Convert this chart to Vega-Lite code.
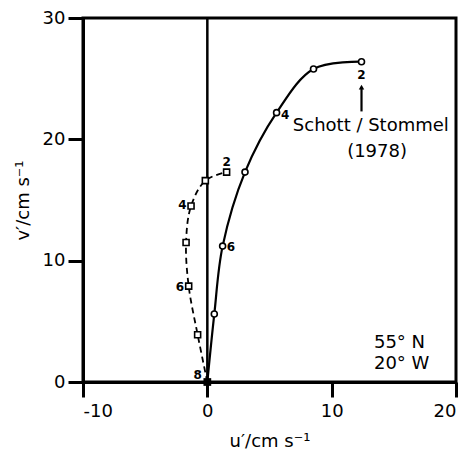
{
  "$schema": "https://vega.github.io/schema/vega-lite/v6.json",
  "width": 373,
  "height": 364,
  "autosize": {"type": "none"},
  "padding": {"left": 83, "top": 18, "right": 14, "bottom": 70},
  "background": "white",
  "config": {
    "font": "DejaVu Sans",
    "view": {"stroke": "black", "strokeWidth": 3},
    "axis": {
      "domainColor": "black", "domainWidth": 3,
      "tickColor": "black", "tickWidth": 3, "tickSize": 15,
      "labelFont": "DejaVu Sans", "labelFontSize": 18, "labelColor": "black",
      "titleFont": "DejaVu Sans", "titleFontSize": 18, "titleFontWeight": "normal", "titleColor": "black",
      "grid": false
    }
  },
  "datasets": {
    "hodo": [
      {"series": "Schott/Stommel", "i": 8, "u": 0.0, "v": 0.0},
      {"series": "Schott/Stommel", "i": 7, "u": 0.56, "v": 5.6},
      {"series": "Schott/Stommel", "i": 6, "u": 1.23, "v": 11.2},
      {"series": "Schott/Stommel", "i": 5, "u": 3.03, "v": 17.3},
      {"series": "Schott/Stommel", "i": 4, "u": 5.57, "v": 22.2},
      {"series": "Schott/Stommel", "i": 3, "u": 8.54, "v": 25.8},
      {"series": "Schott/Stommel", "i": 2, "u": 12.4, "v": 26.4},
      {"series": "model", "i": 8, "u": 0.0, "v": 0.0},
      {"series": "model", "i": 7, "u": -0.78, "v": 3.9},
      {"series": "model", "i": 6, "u": -1.5, "v": 7.9},
      {"series": "model", "i": 5, "u": -1.71, "v": 11.5},
      {"series": "model", "i": 4, "u": -1.31, "v": 14.5},
      {"series": "model", "i": 3, "u": -0.16, "v": 16.6},
      {"series": "model", "i": 2, "u": 1.55, "v": 17.3}
    ],
    "depthLabels": [
      {"label": "2", "u": 1.55, "v": 18.1},
      {"label": "4", "u": -2.0, "v": 14.6},
      {"label": "6", "u": -2.2, "v": 7.8},
      {"label": "8", "u": -0.78, "v": 0.6},
      {"label": "6", "u": 1.9, "v": 11.15},
      {"label": "4", "u": 6.27, "v": 22.0},
      {"label": "2", "u": 12.4, "v": 25.3}
    ],
    "source": [
      {"text": "Schott / Stommel", "u": 13.15, "v": 21.1},
      {"text": "(1978)", "u": 13.65, "v": 18.97}
    ],
    "station": [
      {"text": "55° N", "u": 13.4, "v": 3.2},
      {"text": "20° W", "u": 13.4, "v": 1.5}
    ]
  },
  "layer": [
    {
      "data": {"values": [{"u": 0}]},
      "mark": {"type": "rule", "color": "black", "strokeWidth": 2.5},
      "encoding": {
        "x": {"field": "u", "type": "quantitative", "scale": {"domain": [-10, 20], "nice": false, "zero": false},
              "axis": {"values": [-10, 0, 10, 20], "labelExpr": "'' + datum.value", "title": "u′/cm s⁻¹", "labelPadding": 5, "titlePadding": 12}}
      }
    },
    {
      "data": {"name": "hodo"},
      "transform": [{"filter": "datum.series === 'Schott/Stommel'"}],
      "mark": {"type": "line", "interpolate": "catmull-rom", "color": "black", "strokeWidth": 2.2},
      "encoding": {
        "x": {"field": "u", "type": "quantitative"},
        "y": {"field": "v", "type": "quantitative"},
        "order": {"field": "i", "sort": "descending"}
      }
    },
    {
      "data": {"name": "hodo"},
      "transform": [{"filter": "datum.series === 'model'"}],
      "mark": {"type": "line", "interpolate": "catmull-rom", "color": "black", "strokeWidth": 1.8, "strokeDash": [6, 4]},
      "encoding": {
        "x": {"field": "u", "type": "quantitative"},
        "y": {"field": "v", "type": "quantitative"},
        "order": {"field": "i", "sort": "descending"}
      }
    },
    {
      "data": {"name": "hodo"},
      "transform": [{"filter": "datum.i < 8"}],
      "mark": {"type": "point", "filled": true, "fill": "white", "stroke": "black", "strokeWidth": 1.6, "size": 36, "opacity": 1},
      "encoding": {
        "x": {"field": "u", "type": "quantitative"},
        "y": {"field": "v", "type": "quantitative"},
        "shape": {"field": "series", "type": "nominal", "scale": {"domain": ["Schott/Stommel", "model"], "range": ["circle", "square"]}, "legend": null}
      }
    },
    {
      "data": {"values": [{"u": 0, "v": 0}]},
      "mark": {"type": "square", "color": "black", "size": 60, "opacity": 1},
      "encoding": {
        "x": {"field": "u", "type": "quantitative"},
        "y": {"field": "v", "type": "quantitative"}
      }
    },
    {
      "data": {"name": "depthLabels"},
      "mark": {"type": "text", "fontSize": 12, "fontWeight": "bold", "color": "black"},
      "encoding": {
        "x": {"field": "u", "type": "quantitative"},
        "y": {"field": "v", "type": "quantitative"},
        "text": {"field": "label"}
      }
    },
    {
      "data": {"values": [{"u": 12.4, "v": 22.3, "v2": 24.2}]},
      "mark": {"type": "rule", "color": "black", "strokeWidth": 2.2},
      "encoding": {
        "x": {"field": "u", "type": "quantitative"},
        "y": {"field": "v", "type": "quantitative"},
        "y2": {"field": "v2"}
      }
    },
    {
      "data": {"values": [{"u": 12.4, "v": 24.3}]},
      "mark": {"type": "point", "shape": "triangle-up", "filled": true, "color": "black", "size": 30, "opacity": 1},
      "encoding": {
        "x": {"field": "u", "type": "quantitative"},
        "y": {"field": "v", "type": "quantitative"}
      }
    },
    {
      "data": {"name": "station"},
      "mark": {"type": "text", "fontSize": 18, "color": "black", "align": "left"},
      "encoding": {
        "x": {"field": "u", "type": "quantitative"},
        "y": {"field": "v", "type": "quantitative"},
        "text": {"field": "text"}
      }
    },
    {
      "data": {"name": "source"},
      "mark": {"type": "text", "fontSize": 18, "color": "black", "align": "center"},
      "encoding": {
        "x": {"field": "u", "type": "quantitative"},
        "y": {"field": "v", "type": "quantitative", "scale": {"domain": [0, 30], "nice": false},
              "axis": {"values": [0, 10, 20, 30], "title": "v′/cm s⁻¹", "labelPadding": 3, "titlePadding": 10}},
        "text": {"field": "text"}
      }
    }
  ]
}
